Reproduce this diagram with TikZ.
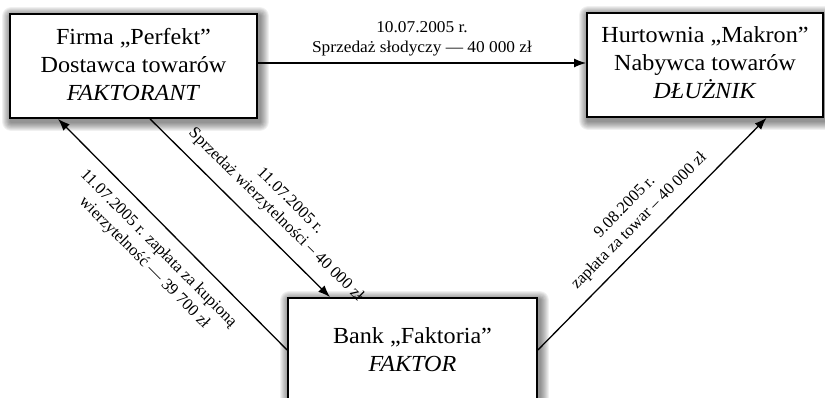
\documentclass[tikz,border=0pt]{standalone}
\usepackage{fontspec}
\setmainfont{Liberation Serif}
\newfontfamily\szeroki[FakeStretch=1.05]{Liberation Serif}
\usetikzlibrary{arrows.meta,backgrounds}

\begin{document}
\begin{tikzpicture}[x=1pt, y=1pt, >={Latex[length=12pt, width=9pt]},
    box/.style = {draw, line width=1.8pt, fill=white, minimum width=247pt, minimum height=104pt, align=center, font=\szeroki\fontsize{23}{28}\selectfont},
    opis/.style = {font=\fontsize{16.5}{20}\selectfont, align=center, sloped}]
    \useasboundingbox (0,0) rectangle (825,398);

    \node[box, text depth=4pt] at (133.5,332) (firma) {Firma „Perfekt”\\Dostawca towarów\\\textit{FAKTORANT}};
    \node[box, text depth=4pt, minimum width=236pt] at (705,333) (hurt) {Hurtownia „Makron”\\Nabywca towarów\\\textit{DŁUŻNIK}};
    \node[box, minimum width=249pt] at (412.5,48) (bank) {Bank „Faktoria”\\\textit{FAKTOR}};

    \begin{scope}[on background layer]
        \foreach \n in {firma,hurt,bank}
            \foreach \r in {1,...,9}
                \fill[black, opacity=0.06, rounded corners=\r pt] ([shift={(2-\r,\r-3)}]\n.north west) rectangle ([shift={(2+\r,-3-\r)}]\n.south east);
    \end{scope}

    \path[->, line width=1.3pt]
    ([yshift=3pt]firma.east) edge node[opis, above, inner ysep=6pt, font=\szeroki\fontsize{16.5}{20}\selectfont] {10.07.2005 r.\\Sprzedaż słodyczy — 40 000 zł} ([yshift=2pt]hurt.west)
    ([xshift=16.5pt]firma.south) edge node[opis, above, pos=0.62, inner ysep=12pt] {11.07.2005 r.\\Sprzedaż wierzytelności – 40 000 zł} ([xshift=-82.5pt]bank.north)
    (bank.west) edge node[opis, below, inner ysep=12pt] {11.07.2005 r. zapłata za kupioną\\wierzytelność — 39 700 zł} ([xshift=-75.5pt]firma.south)
    (bank.east) edge node[opis, above, inner ysep=10pt] {9.08.2005 r.\\zapłata za towar – 40 000 zł} ([xshift=61.5pt]hurt.south)
    ;
\end{tikzpicture}
\end{document}
